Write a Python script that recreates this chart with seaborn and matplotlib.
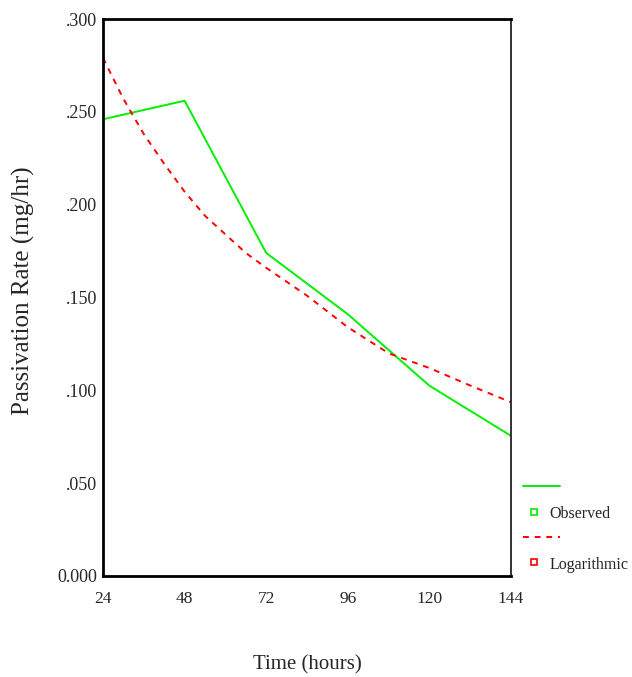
import numpy as np
import pandas as pd
import matplotlib
matplotlib.use("Agg")
import matplotlib.pyplot as plt
import seaborn as sns
from matplotlib.lines import Line2D
from matplotlib.legend_handler import HandlerLine2D

# observed passivation rate
hours = [24, 48, 72, 96, 120, 144]
observed = [0.246, 0.256, 0.174, 0.141, 0.1025, 0.0755]

# logarithmic fit curve
fit_hours = [24, 30, 36, 42, 48, 54, 60, 66, 72, 84, 96, 108, 120, 132, 144]
fit_rate = [0.279, 0.257, 0.238, 0.222, 0.207, 0.194, 0.184, 0.174, 0.166,
            0.151, 0.134, 0.120, 0.112, 0.1026, 0.0936]

y_ticks = [0.0, 0.05, 0.10, 0.15, 0.20, 0.25, 0.30]
y_tick_labels = ["0.000", ".050", ".100", ".150", ".200", ".250", ".300"]

GREEN = "#00f000"
RED = "#ff0000"
DASH = (0, (3, 3))


class LeftMarker(HandlerLine2D):
    # put the legend marker near the left end of the handle box (SPSS look)
    def get_xdata(self, legend, xdescent, ydescent, width, height, fontsize):
        xdata = [-xdescent, -xdescent + 0.6 * width]
        return xdata, [-xdescent + 0.3 * width]


sns.set_style("white")
plt.rcParams["font.family"] = ["Liberation Serif", "DejaVu Serif"]

fig = plt.figure(figsize=(6.32, 6.77), dpi=100)
ax = fig.add_axes([0.163, 0.1492, 0.6455, 0.8227])

obs_df = pd.DataFrame({"Time": hours, "Rate": observed})
fit_df = pd.DataFrame({"Time": fit_hours, "Rate": fit_rate})

sns.lineplot(data=obs_df, x="Time", y="Rate", color=GREEN, linewidth=1.4, ax=ax)
sns.lineplot(data=fit_df, x="Time", y="Rate", color=RED, linewidth=1.4,
             linestyle=DASH, ax=ax)

ax.set_xlim(24, 144)
ax.set_ylim(0, 0.3)
ax.set_xticks(hours)
ax.set_xticklabels([str(h) for h in hours])
ax.set_yticks(y_ticks)
ax.set_yticklabels(y_tick_labels)
ax.tick_params(axis="both", direction="out", length=3, width=3.5, color="black")
ax.tick_params(axis="x", labelsize=12.5, pad=8)
ax.tick_params(axis="y", labelsize=13, pad=1.5)

for side in ["left", "bottom", "top"]:
    ax.spines[side].set_linewidth(2)
    ax.spines[side].set_color("black")
ax.spines["right"].set_linewidth(1.3)
ax.spines["right"].set_color("#222222")

ax.set_xlabel("Time (hours)", fontsize=15)
ax.xaxis.set_label_coords(0.5, -0.143)
ax.set_ylabel("Passivation Rate (mg/hr)", fontsize=18)
ax.yaxis.set_label_coords(-0.167, 0.512)

# SPSS style legend: line sample on one row, marker and name on the next
obs_mark = Line2D([], [], marker="s", markersize=4.5, markerfacecolor="white",
                  markeredgecolor=GREEN, markeredgewidth=1.2, linestyle="none")
fit_mark = Line2D([], [], marker="s", markersize=4.5, markerfacecolor="white",
                  markeredgecolor=RED, markeredgewidth=1.2, linestyle="none")
handles = [
    Line2D([], [], color=GREEN, linewidth=1.4),
    obs_mark,
    Line2D([], [], color=RED, linewidth=1.4, linestyle=DASH),
    fit_mark,
]
labels = ["", "Observed", "", "Logarithmic"]
fig.legend(handles, labels, loc="upper left", bbox_to_anchor=(0.8275, 0.2919),
           frameon=False, fontsize=11.5, handlelength=2.3, handleheight=1.2,
           handletextpad=-0.62, labelspacing=0.49, borderpad=0, borderaxespad=0,
           handler_map={obs_mark: LeftMarker(), fit_mark: LeftMarker()})

fig.savefig("out.png", dpi=100)
